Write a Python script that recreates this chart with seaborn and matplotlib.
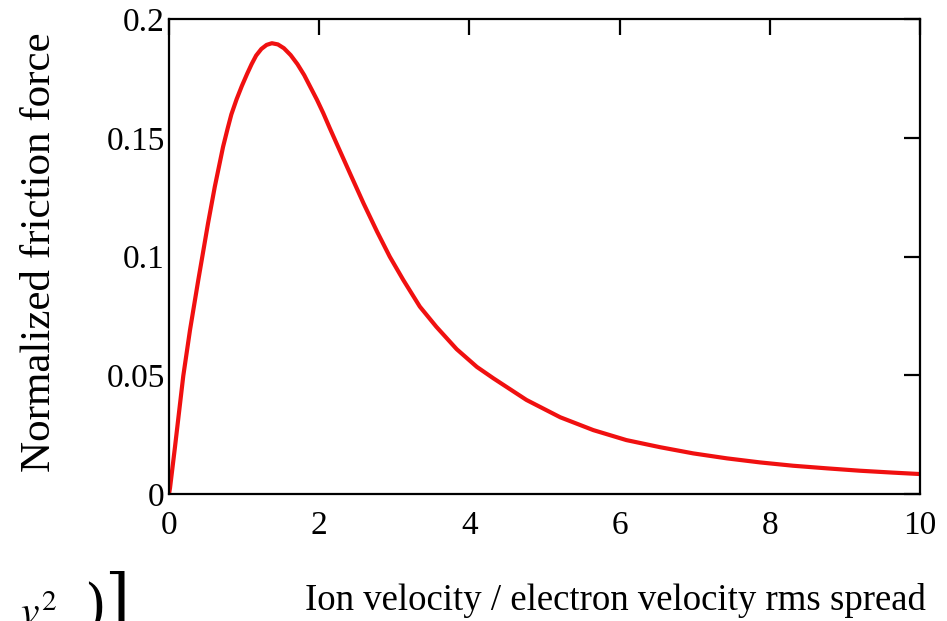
import numpy as np
import pandas as pd
import matplotlib
matplotlib.use("Agg")
import matplotlib.pyplot as plt
import seaborn as sns

# Values
velocity = [0.0, 0.013, 0.08, 0.19, 0.28, 0.39, 0.52, 0.61, 0.72, 0.78,
            0.83, 0.90, 0.97, 1.04, 1.10, 1.16, 1.23, 1.30, 1.37, 1.45,
            1.53, 1.62, 1.71, 1.80, 1.88, 1.97, 2.055, 2.14, 2.23, 2.41,
            2.59, 2.77, 2.94, 3.12, 3.34, 3.56, 3.83, 4.10, 4.32, 4.76,
            5.21, 5.65, 6.09, 6.54, 6.98, 7.43, 7.87, 8.31, 8.76, 9.20,
            9.64, 10.0]
friction = [0.0, 0.0024, 0.0199, 0.0497, 0.0691, 0.0901, 0.1140, 0.1294,
            0.1462, 0.1538, 0.1598, 0.1662, 0.1718, 0.1769, 0.1810, 0.1846,
            0.1874, 0.1891, 0.1898, 0.1893, 0.1877, 0.1848, 0.1810, 0.1764,
            0.1715, 0.1660, 0.1603, 0.1541, 0.1477, 0.1350, 0.1224, 0.1105,
            0.0999, 0.0901, 0.0789, 0.0704, 0.0610, 0.0535, 0.0487, 0.0396,
            0.0323, 0.0269, 0.0227, 0.0197, 0.0171, 0.0150, 0.0133, 0.0119,
            0.0108, 0.0098, 0.0090, 0.0084]
x_ticks = [0, 2, 4, 6, 8, 10]
x_tick_labels = ["0", "2", "4", "6", "8", "10"]
y_ticks = [0, 0.05, 0.1, 0.15, 0.2]
y_tick_labels = ["0", "0.05", "0.1", "0.15", "0.2"]

df = pd.DataFrame({"v": velocity, "F": friction})

sns.set_theme(style="white")
plt.rcParams["font.family"] = ["Liberation Serif", "DejaVu Serif"]
plt.rcParams["mathtext.fontset"] = "stix"

W, H = 947, 621
fig = plt.figure(figsize=(W / 100, H / 100), dpi=100)
ax = fig.add_axes([169 / W, 1 - 494 / H, (920 - 169) / W, (494 - 19) / H])

sns.lineplot(data=df, x="v", y="F", ax=ax, color="#f01010",
             linewidth=3.0, estimator=None, sort=False)
for ln in ax.lines:
    ln.set_solid_joinstyle("round")
    ln.set_solid_capstyle("round")

ax.set_xlim(0, 10)
ax.set_ylim(0, 0.2)
ax.set_xticks(x_ticks)
ax.set_xticklabels(x_tick_labels)
ax.set_yticks(y_ticks)
ax.set_yticklabels(y_tick_labels)
ax.tick_params(direction="in", length=11.5, width=1.6, top=True, right=True,
               labelsize=24, colors="black")
ax.tick_params(axis="x", pad=12)
ax.tick_params(axis="y", pad=3)
for s in ax.spines.values():
    s.set_color("black")
    s.set_linewidth(1.6)

ax.set_xlabel("Ion velocity / electron velocity rms spread", fontsize=26.5,
              color="black")
ax.set_ylabel("Normalized friction force", fontsize=31, color="black")
ax.xaxis.set_label_coords((615 - 169) / (920 - 169), -(600 - 494) / (494 - 19))
ax.xaxis.label.set_va("center")
ax.yaxis.set_label_coords(-(169 - 40) / (920 - 169), (494 - 252) / (494 - 19))
ax.yaxis.label.set_va("center")

# cropped fragment of an equation at the lower-left edge
fig.text(20 / W, 1 - 596 / H, r"$v^2$", fontsize=30, va="top", ha="left",
         color="black")
fig.text(84 / W, 1 - 582 / H, ")", fontsize=40, va="top", ha="left",
         color="black", family="DejaVu Serif")
fig.text(104 / W, 1 - 572 / H, "]", fontsize=46, va="top", ha="left",
         color="black", family="DejaVu Serif")

fig.savefig("out.png", dpi=100)
